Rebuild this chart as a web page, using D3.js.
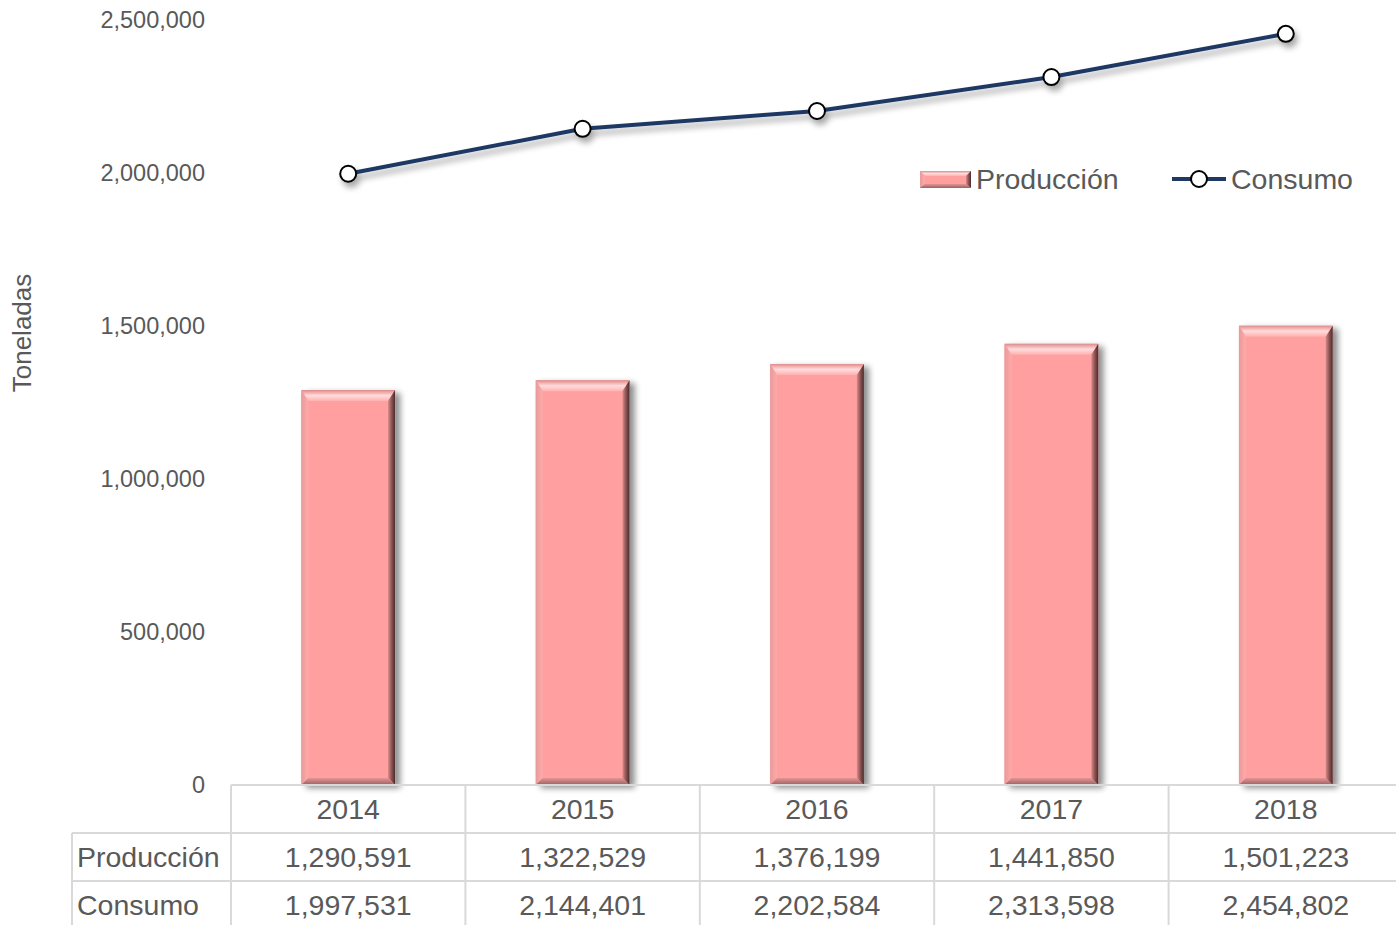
<!DOCTYPE html>
<html><head><meta charset="utf-8">
<script src="https://cdn.jsdelivr.net/npm/d3@7"></script>
<style>body{margin:0;background:#fff;}svg{display:block;font-family:"Liberation Sans",Arial,sans-serif;}</style>
</head><body><svg id="c" width="1396" height="925"></svg>
<script>
const years = ["2014","2015","2016","2017","2018"];
const produccion = [1290591,1322529,1376199,1441850,1501223];
const consumo = [1997531,2144401,2202584,2313598,2454802];
const yTicks = [0,500000,1000000,1500000,2000000,2500000];
const seriesNames = ["Producción","Consumo"];

(function(){
const svg = d3.select("#c");
const W = 1396, H = 925;
const pLeft = 231, pRight = 1403, pTop = 20, pBottom = 785;
const x = d3.scaleBand().domain(years).range([pLeft,pRight]).paddingInner(0.6).paddingOuter(0.3);
const xc = d3.scaleBand().domain(years).range([pLeft,pRight]);
const y = d3.scaleLinear().domain([0,2500000]).range([pBottom,pTop]);
const fmt = d3.format(",");
const txt = "#595959", grid = "#d9d9d9";

const defs = svg.append("defs");
const sh = defs.append("filter").attr("id","sh").attr("x","-20%").attr("y","-20%").attr("width","150%").attr("height","150%");
sh.append("feGaussianBlur").attr("in","SourceAlpha").attr("stdDeviation",3);
sh.append("feOffset").attr("dx",5).attr("dy",3);
sh.append("feComponentTransfer").append("feFuncA").attr("type","linear").attr("slope",0.45);
const m = sh.append("feMerge"); m.append("feMergeNode"); m.append("feMergeNode").attr("in","SourceGraphic");
const lsh = defs.append("filter").attr("id","lsh").attr("x","-10%").attr("y","-50%").attr("width","130%").attr("height","200%");
lsh.append("feGaussianBlur").attr("in","SourceAlpha").attr("stdDeviation",3);
lsh.append("feOffset").attr("dx",3).attr("dy",5);
lsh.append("feComponentTransfer").append("feFuncA").attr("type","linear").attr("slope",0.35);
const m2 = lsh.append("feMerge"); m2.append("feMergeNode"); m2.append("feMergeNode").attr("in","SourceGraphic");

function grad(id, x1,y1,x2,y2, stops){
  const g = defs.append("linearGradient").attr("id",id).attr("x1",x1).attr("y1",y1).attr("x2",x2).attr("y2",y2);
  stops.forEach(s=>g.append("stop").attr("offset",s[0]).attr("stop-color",s[1]));
}
grad("gTop",0,0,0,1,[[0,"#e08a8a"],[0.5,"#ffdcdc"],[1,"#ffb0b0"]]);
grad("gRight",0,0,1,0,[[0,"#d88a8a"],[0.5,"#8c5454"],[1,"#4a2a2a"]]);
grad("gLeft",0,0,1,0,[[0,"#e89a9a"],[1,"#ffaaaa"]]);
grad("gBot",0,0,0,1,[[0,"#e49494"],[1,"#9c6060"]]);

function bevelBar(g, x0, y0, w, h, bt, bs, bb){
  g.append("rect").attr("x",x0).attr("y",y0).attr("width",w).attr("height",h).attr("fill","#ff9f9f");
  g.append("polygon").attr("points",[[x0,y0],[x0+w,y0],[x0+w-bs,y0+bt],[x0+bs,y0+bt]].join(" ")).attr("fill","url(#gTop)");
  g.append("polygon").attr("points",[[x0,y0],[x0+bs,y0+bt],[x0+bs,y0+h-bb],[x0,y0+h]].join(" ")).attr("fill","url(#gLeft)");
  g.append("polygon").attr("points",[[x0+w,y0],[x0+w,y0+h],[x0+w-bs,y0+h-bb],[x0+w-bs,y0+bt]].join(" ")).attr("fill","url(#gRight)");
  g.append("polygon").attr("points",[[x0,y0+h],[x0+bs,y0+h-bb],[x0+w-bs,y0+h-bb],[x0+w,y0+h]].join(" ")).attr("fill","url(#gBot)");
}

svg.append("g").selectAll("text").data(yTicks).join("text")
  .attr("x",205).attr("y",d=>y(d)).attr("dy","0.35em").attr("text-anchor","end")
  .attr("font-size",23.5).attr("fill",txt).text(d=>fmt(d));
svg.append("text").attr("transform","translate(31,333) rotate(-90)").attr("text-anchor","middle")
  .attr("font-size",26).attr("fill",txt).text("Toneladas");

const bars = svg.append("g");
years.forEach((yr,i)=>{
  const g = bars.append("g").attr("filter","url(#sh)");
  bevelBar(g, x(yr), y(produccion[i]), x.bandwidth(), pBottom - y(produccion[i]), 11, 7, 7);
});

const line = d3.line().x((d,i)=>xc(years[i])+xc.bandwidth()/2).y(d=>y(d));
const lg = svg.append("g").attr("filter","url(#lsh)");
lg.append("path").datum(consumo).attr("d",line).attr("fill","none").attr("stroke","#1f3864").attr("stroke-width",4).attr("stroke-linejoin","round");
lg.selectAll("circle").data(consumo).join("circle")
  .attr("cx",(d,i)=>xc(years[i])+xc.bandwidth()/2).attr("cy",d=>y(d)).attr("r",8)
  .attr("fill","#fff").attr("stroke","#000").attr("stroke-width",2);

const leg = svg.append("g");
const lb = leg.append("g"); bevelBar(lb, 920, 171, 51, 17, 5, 5, 4);
leg.append("text").attr("x",976).attr("y",189).attr("font-size",28.5).attr("fill",txt).text(seriesNames[0]);
leg.append("line").attr("x1",1172).attr("x2",1226).attr("y1",179).attr("y2",179).attr("stroke","#1f3864").attr("stroke-width",4);
leg.append("circle").attr("cx",1199).attr("cy",179).attr("r",8).attr("fill","#fff").attr("stroke","#000").attr("stroke-width",2);
leg.append("text").attr("x",1231).attr("y",189).attr("font-size",28.5).attr("fill",txt).text(seriesNames[1]);

const tb = svg.append("g");
const r0 = 785, r1 = 833, r2 = 881;
tb.append("line").attr("x1",pLeft).attr("x2",W).attr("y1",r0).attr("y2",r0).attr("stroke",grid).attr("stroke-width",2);
[r1,r2].forEach(r=>tb.append("line").attr("x1",72).attr("x2",W).attr("y1",r).attr("y2",r).attr("stroke",grid).attr("stroke-width",2));
tb.append("line").attr("x1",72).attr("x2",72).attr("y1",r1).attr("y2",H).attr("stroke",grid).attr("stroke-width",2);
tb.selectAll(".v").data(years).join("line").attr("class","v")
  .attr("x1",d=>xc(d)).attr("x2",d=>xc(d)).attr("y1",r0).attr("y2",H).attr("stroke",grid).attr("stroke-width",2);
tb.selectAll(".yr").data(years).join("text").attr("class","yr")
  .attr("x",d=>xc(d)+xc.bandwidth()/2).attr("y",809).attr("dy","0.35em").attr("text-anchor","middle")
  .attr("font-size",28.5).attr("fill",txt).text(d=>d);
[[produccion,857],[consumo,905]].forEach(([arr,cy],k)=>{
  tb.append("text").attr("x",77).attr("y",cy).attr("dy","0.35em").attr("font-size",28.5).attr("fill",txt).text(seriesNames[k]);
  tb.selectAll(".r"+k).data(arr).join("text").attr("class","r"+k)
    .attr("x",(d,i)=>xc(years[i])+xc.bandwidth()/2).attr("y",cy).attr("dy","0.35em").attr("text-anchor","middle")
    .attr("font-size",28.5).attr("fill",txt).text(d=>fmt(d));
});
})();
</script></body></html>
